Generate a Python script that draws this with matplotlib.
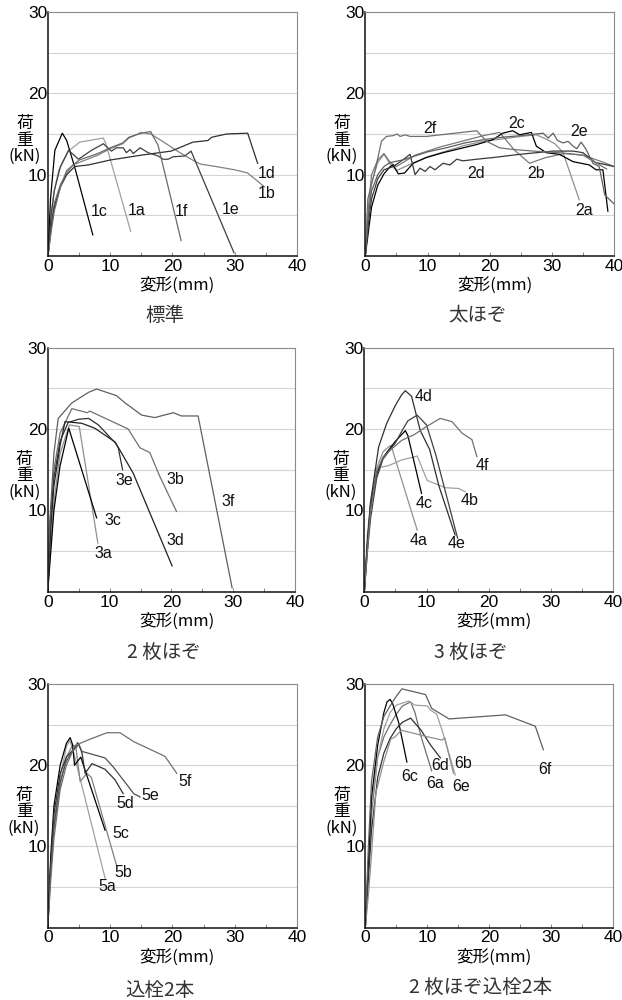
import matplotlib
matplotlib.use("Agg")
import matplotlib.pyplot as plt
from matplotlib.ticker import MultipleLocator

plt.rcParams['font.family'] = ['Liberation Sans', 'Noto Sans CJK JP', 'DejaVu Sans']

# ---- panel 1 : 標準 ----
names_1 = ["1a", "1b", "1c", "1d", "1e", "1f"]
x_1 = [
    [0, 0.3, 1, 1.7, 3.3, 5.1, 8.9, 9.3, 13.3],
    [0, 0.5, 1, 2, 3, 4, 6, 8, 10, 12, 13, 15, 16.5, 18, 21, 23, 24.5, 27, 30, 32.1, 34.8],
    [0, 0.4, 1.1, 2.3, 3.0, 4.3, 7.2],
    [0, 0.5, 1, 2, 3, 4.3, 6.5, 10, 15, 19.8, 23.3, 25.7, 26.3, 28.7, 32.1, 33.7],
    [0, 0.5, 1, 2, 3.3, 4.9, 7, 8.9, 10.2, 11.0, 12.1, 12.6, 13.2, 13.7, 14.8, 16.1, 17.7, 18.5, 19.3, 20.1, 22, 23.0, 29.9],
    [0, 0.5, 1, 2, 3, 5, 8, 10, 12, 13, 15, 16.5, 17.7, 21.4],
]
y_1 = [
    [0, 4, 8, 10.5, 12.9, 14.0, 14.5, 13.8, 3.0],
    [0, 4, 6.5, 8.8, 10.2, 11.2, 11.8, 12.4, 13.2, 13.8, 14.5, 15.2, 15.0, 14.3, 12.8, 11.9, 11.3, 11.0, 10.6, 10.2, 8.5],
    [0, 7, 13.0, 15.1, 14.2, 10.9, 2.6],
    [0, 3.5, 6, 8.5, 10, 11.0, 11.2, 11.8, 12.4, 12.9, 14.0, 14.2, 14.6, 15.0, 15.1, 11.4],
    [0, 5, 8, 11, 13.0, 11.9, 13.0, 13.8, 12.9, 13.3, 13.3, 12.7, 13.1, 12.6, 13.3, 12.7, 12.3, 11.9, 11.9, 12.2, 12.3, 12.9, 0.4],
    [0, 3, 5.5, 8.5, 10.5, 11.8, 12.6, 13.3, 13.9, 14.6, 15.1, 15.3, 13.6, 1.9],
]
lab_x_1 = [14.3, 35.2, 8.2, 35.2, 29.3, 21.5]
lab_y_1 = [5.6, 7.7, 5.5, 10.1, 5.7, 5.5]

# ---- panel 2 : 太ほぞ ----
names_2 = ["2a", "2b", "2c", "2d", "2e", "2f"]
x_2 = [
    [0, 0.5, 1, 2, 3, 4, 5, 7, 10, 13, 16, 19, 22, 25, 27.5, 29, 30.5, 31.8, 34.4],
    [0, 0.5, 1, 2, 3, 4, 5, 8, 12, 16, 19, 21.6, 24, 26.4, 29, 32, 35, 38, 40],
    [0, 0.5, 1, 2, 3, 4, 4.5, 5.3, 6.3, 7.7, 9.8, 12.5, 15.2, 17.9, 20.5, 22.1, 23.7, 24.8, 26.7, 27.5, 29.1, 31.2, 33.4, 36, 37.1, 38.2, 39],
    [0, 0.5, 1, 2, 3, 4.5, 6, 7.2, 8, 8.8, 9.6, 10.4, 11.2, 12.5, 13.6, 14.7, 15.7, 17.9, 20.5, 22.7, 24.8, 27.5, 30.2, 33.4, 35, 37, 40],
    [0, 0.5, 1, 2, 3, 4, 6, 8, 10, 13, 16, 19, 22, 25, 28.6, 29.4, 30.2, 30.9, 31.8, 32.6, 33.4, 34, 34.7, 35.5, 36.6, 37.6, 38.5, 40],
    [0, 0.4, 1.6, 2.6, 3.4, 4.5, 5.1, 5.6, 6.4, 7.2, 9.8, 17.9, 19.5, 21.6, 23.7, 27, 31.2, 35, 37, 38.8],
]
y_2 = [
    [0, 5, 9, 11.5, 12.5, 11.3, 10.5, 11.2, 12.2, 12.9, 13.6, 14.1, 14.4, 14.7, 14.9, 14.4, 13.8, 12.7, 6.9],
    [0, 6, 10, 11.8, 12.6, 11.5, 11, 12.4, 13.4, 14.2, 14.8, 15.2, 13.0, 11.4, 12.1, 12.6, 12.4, 11.6, 11.0],
    [0, 3, 6, 8.7, 10.1, 11, 11.2, 10.1, 10.2, 11.4, 12.1, 12.7, 13.2, 13.7, 14.3, 15.1, 15.4, 14.9, 15.2, 13.5, 12.7, 12.5, 11.6, 11.2, 10.6, 10.6, 5.5],
    [0, 4, 7, 9.5, 10.6, 11.0, 11.8, 12.5, 10.0, 10.8, 10.4, 11.0, 10.6, 11.4, 11.2, 11.9, 11.7, 11.9, 12.1, 12.3, 12.5, 12.7, 12.9, 12.9, 12.7, 11.5, 11.0],
    [0, 5, 8, 10, 11, 11.5, 11.8, 12.3, 12.8, 13.3, 13.9, 14.3, 14.6, 14.8, 15.1, 14.5, 15.1, 14.2, 13.9, 14.1, 13.5, 13.2, 14.0, 13.1, 11.4, 11.0, 7.5, 6.4],
    [0, 7, 10.6, 14.1, 14.7, 14.8, 15.0, 14.7, 14.9, 14.7, 14.7, 15.4, 14.1, 13.3, 13.1, 12.9, 12.7, 12.4, 11.5, 10.7],
]
lab_x_2 = [35.1, 27.4, 24.4, 17.8, 34.3, 10.4]
lab_y_2 = [5.6, 10.1, 16.3, 10.2, 15.3, 15.7]

# ---- panel 3 : 2 枚ほぞ ----
names_3 = ["3a", "3b", "3c", "3d", "3e", "3f"]
x_3 = [
    [0, 0.5, 1, 2, 3.5, 5.1, 8.1],
    [0, 0.3, 1, 2, 3.9, 6.4, 6.8, 13.0, 14.9, 16.5, 18.1, 20.8],
    [0, 0.5, 1, 2, 3.4, 7.9],
    [0, 0.5, 1, 2, 2.8, 5.5, 7.6, 10.9, 13.8, 20.1],
    [0, 0.5, 1, 2, 3.3, 5.0, 6.6, 8.2, 10.9, 11.4, 12.1],
    [0, 0.3, 1, 1.7, 3.9, 6.6, 7.9, 11.1, 12.5, 15.2, 17.3, 20.3, 21.6, 24.3, 29.8],
]
y_3 = [
    [0, 6, 11, 17, 20.5, 20.3, 6.0],
    [0, 8, 15, 19.5, 22.5, 22.0, 22.2, 20.0, 17.7, 17.1, 14.2, 9.9],
    [0, 5, 10, 15.5, 20.1, 9.1],
    [0, 8, 13, 18, 20.9, 20.7, 20.1, 18.4, 14.6, 3.2],
    [0, 9, 14, 18.5, 20.8, 21.2, 21.3, 20.5, 18.3, 17.7, 15.0],
    [0, 8, 17, 21.3, 23.2, 24.5, 24.9, 24.1, 23.2, 21.7, 21.4, 22.0, 21.6, 21.6, 0.5],
]
lab_x_3 = [9.0, 20.7, 10.5, 20.6, 12.3, 29.2]
lab_y_3 = [4.7, 13.8, 8.75, 6.3, 13.7, 11.1]

# ---- panel 4 : 3 枚ほぞ ----
names_4 = ["4a", "4b", "4c", "4d", "4e", "4f"]
x_4 = [
    [0, 0.5, 1, 2, 3, 3.9, 4.3, 5.5, 8.5],
    [0, 0.5, 1, 1.8, 3.9, 6, 8.2, 8.5, 10.1, 13, 15.2, 16.2],
    [0, 0.5, 1, 2, 3, 4, 5, 6.6, 7, 9.2],
    [0, 0.5, 1, 2.3, 3.6, 5.0, 6.0, 6.6, 7.6, 9, 10.5, 12, 14.6],
    [0, 0.5, 1, 2, 3, 4, 5, 6, 7, 8.5, 10, 11.5, 15],
    [0, 0.5, 1, 2, 3, 4, 6, 8, 10, 12.2, 14.1, 15.7, 17.3, 18.1],
]
y_4 = [
    [0, 7, 11, 15.2, 17.2, 17.8, 18.0, 15, 7.6],
    [0, 6, 10, 15.2, 15.5, 16.2, 16.6, 16.7, 13.7, 12.8, 12.7, 12.3],
    [0, 6, 10.5, 14.5, 16.5, 17.5, 18.5, 19.8, 19.2, 12.1],
    [0, 6, 11, 17.8, 20.7, 22.9, 24.2, 24.7, 24.0, 19.8, 17.5, 13.0, 7.0],
    [0, 5, 9, 14, 16.3, 17.3, 18.3, 19.7, 21, 21.7, 20.5, 16.8, 6.6],
    [0, 5, 10, 14.8, 16.5, 17.3, 18.6, 19.3, 20.3, 21.3, 20.9, 19.5, 18.7, 16.6],
]
lab_x_4 = [8.8, 17.0, 9.6, 9.6, 14.9, 19.0]
lab_y_4 = [6.3, 11.2, 10.9, 24.0, 6.0, 15.5]

# ---- panel 5 : 込栓2本 ----
names_5 = ["5a", "5b", "5c", "5d", "5e", "5f"]
x_5 = [
    [0, 0.5, 1, 2, 3, 3.5, 4, 9.2],
    [0, 0.5, 1, 2, 3, 4, 4.5, 5.2, 6.3, 7, 11.1],
    [0, 0.5, 1, 2, 3, 3.6, 4, 4.3, 5.3, 9.2],
    [0, 0.5, 1, 2, 3, 4.2, 5.0, 5.5, 6.0, 7.1, 9.2, 10.8, 12.1],
    [0, 0.5, 1, 2, 3, 4, 4.8, 5.5, 9.2, 10.5, 11.9, 13.8, 14.8],
    [0, 0.5, 1, 2, 3, 4, 5.2, 7.1, 9.5, 11.6, 13.8, 18.8, 20.7],
]
y_5 = [
    [0, 8, 13, 18.5, 22.3, 23.0, 22.0, 6.1],
    [0, 7, 12, 17.5, 21, 22.5, 22.3, 18.0, 19.0, 18.5, 7.5],
    [0, 9, 15, 20, 22.7, 23.4, 22.5, 20.0, 21.0, 12.0],
    [0, 8, 14, 19, 21, 22.0, 22.6, 21.5, 19.0, 20.2, 19.5, 18.2, 16.5],
    [0, 7, 12.5, 18, 20.5, 21.8, 22.8, 21.7, 20.9, 19.8, 18.4, 16.5, 16.1],
    [0, 6, 11, 17, 20, 21.7, 22.7, 23.3, 24.0, 24.0, 22.9, 21.1, 19.0],
]
lab_x_5 = [9.6, 12.1, 11.7, 12.4, 16.5, 22.0]
lab_y_5 = [5.1, 6.8, 11.6, 15.3, 16.3, 18.0]

# ---- panel 6 : 2 枚ほぞ込栓2本 ----
names_6 = ["6a", "6b", "6c", "6d", "6e", "6f"]
x_6 = [
    [0, 0.5, 1, 2, 3, 4, 5, 6, 7.3, 8, 9, 10.7],
    [0, 0.5, 1, 2, 3, 4, 5, 7, 8, 10, 10.5, 11.5, 12.5, 14.5],
    [0, 0.5, 1, 2, 3, 3.5, 4, 4.4, 5.4, 6.7],
    [0, 0.5, 1, 2, 3, 4, 5, 6, 7.3, 9, 10.5, 12.1],
    [0, 0.5, 1, 1.7, 3, 4.1, 4.8, 5.8, 8, 10, 12.4, 12.8, 14.2],
    [0, 0.5, 1, 2, 3, 4, 5, 5.9, 9.7, 10.7, 13.5, 22.6, 27.4, 28.7],
]
y_6 = [
    [0, 7, 14, 21, 23.5, 25, 26.3, 27.3, 27.8, 26.5, 23.5, 19.3],
    [0, 8, 15, 21, 24.5, 26.5, 27.4, 27.9, 27.4, 27.3, 26.8, 26.3, 24, 18.8],
    [0, 8, 16, 22.5, 26.5, 27.8, 28.1, 27.6, 25.2, 20.4],
    [0, 6, 12, 18.5, 21.5, 23.3, 24.5, 25.3, 25.8, 24.3, 22.5, 20.9],
    [0, 4, 9, 16.6, 20.5, 23.2, 23.5, 24.3, 23.9, 23.5, 23.1, 23.4, 19.0],
    [0, 10, 18, 23.5, 26, 27.3, 28.5, 29.4, 28.7, 27.0, 25.7, 26.2, 24.8, 21.9],
]
lab_x_6 = [11.2, 15.7, 7.1, 12.1, 15.4, 29.0]
lab_y_6 = [17.7, 20.2, 18.6, 20.0, 17.4, 19.5]

titles = ["標準", "太ほぞ", "2 枚ほぞ", "3 枚ほぞ", "込栓2本", "2 枚ほぞ込栓2本"]

xs = [x_1, x_2, x_3, x_4, x_5, x_6]
ys = [y_1, y_2, y_3, y_4, y_5, y_6]
names = [names_1, names_2, names_3, names_4, names_5, names_6]
lab_xs = [lab_x_1, lab_x_2, lab_x_3, lab_x_4, lab_x_5, lab_x_6]
lab_ys = [lab_y_1, lab_y_2, lab_y_3, lab_y_4, lab_y_5, lab_y_6]

# line greys for a..f in each panel
greys = [
    ["#a0a0a0", "#808080", "#000000", "#303030", "#404040", "#6a6a6a"],
    ["#909090", "#7a7a7a", "#000000", "#383838", "#606060", "#707070"],
    ["#909090", "#707070", "#000000", "#202020", "#303030", "#606060"],
    ["#909090", "#a0a0a0", "#000000", "#303030", "#404040", "#707070"],
    ["#a0a0a0", "#808080", "#000000", "#303030", "#505050", "#707070"],
    ["#707070", "#a0a0a0", "#000000", "#303030", "#909090", "#606060"],
]

rects = [
    [0.0772, 0.744, 0.400, 0.244],
    [0.5873, 0.744, 0.400, 0.244],
    [0.0767, 0.408, 0.398, 0.2445],
    [0.5857, 0.408, 0.400, 0.2445],
    [0.0767, 0.0723, 0.401, 0.2437],
    [0.5873, 0.0723, 0.399, 0.2437],
]
title_pos = [(0.47, -0.243), (0.45, -0.243), (0.47, -0.25), (0.43, -0.25), (0.45, -0.256), (0.466, -0.25)]

cjk = ["Noto Sans CJK JP", "DejaVu Sans"]

fig = plt.figure(figsize=(6.22, 10), dpi=100)

for i in range(6):
    ax = fig.add_axes(rects[i])
    ax.set_xlim(0, 40)
    ax.set_ylim(0, 30)
    for g in [5, 10, 15, 20, 25]:
        ax.axhline(g, color="#d4d4d4", lw=0.8, zorder=0)
    for j in range(6):
        ax.plot(xs[i][j], ys[i][j], color=greys[i][j], lw=0.9, zorder=2)
        ax.text(lab_xs[i][j], lab_ys[i][j], names[i][j], fontsize=11.5,
                ha="center", va="center", color="#111111")
    ax.set_xticks([0, 10, 20, 30, 40])
    ax.xaxis.set_minor_locator(MultipleLocator(5))
    ax.set_yticks([10, 20, 30])
    ax.tick_params(axis="x", which="both", direction="in", length=3, width=0.6,
                   color="#777777", labelsize=12.5, pad=2)
    ax.tick_params(axis="y", length=0, labelsize=12.5, pad=0.5)
    for s in ["left", "bottom"]:
        ax.spines[s].set_color("#111111")
        ax.spines[s].set_linewidth(1.1)
    for s in ["top", "right"]:
        ax.spines[s].set_color("#8a8a8a")
        ax.spines[s].set_linewidth(0.8)
    ax.text(0.52, -0.12, "変形(mm)", transform=ax.transAxes, ha="center", va="center",
            fontsize=12, family=cjk)
    ax.text(-0.095, 0.475, "荷\n重\n(kN)", transform=ax.transAxes, ha="center", va="center",
            fontsize=12, linespacing=0.95, family=cjk)
    ax.text(title_pos[i][0], title_pos[i][1], titles[i], transform=ax.transAxes,
            ha="center", va="center", fontsize=14, color="#333333", family=cjk)

fig.savefig("out.png", dpi=100)
